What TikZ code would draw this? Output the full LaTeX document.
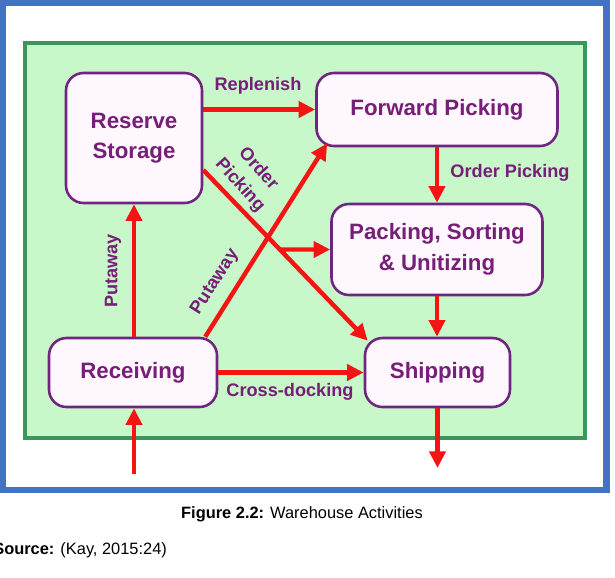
\documentclass[tikz,border=0pt]{standalone}
\usepackage{fontspec}
\setmainfont{Liberation Sans}
\usepackage{xcolor}
\usepackage{tikz}
\usetikzlibrary{arrows.meta, positioning, calc}
\definecolor{frameBlue}{RGB}{68, 114, 196}
\definecolor{boardGreen}{RGB}{200, 247, 202}
\definecolor{boardEdge}{RGB}{58, 150, 92}
\definecolor{boxPurple}{RGB}{112, 38, 128}
\definecolor{textPurple}{RGB}{118, 30, 120}
\definecolor{boxFill}{RGB}{254, 248, 254}
\definecolor{flowRed}{RGB}{245, 20, 20}
\tikzset{
  actbox/.style={
    rectangle, rounded corners=15pt,
    draw=boxPurple, line width=2.2pt, fill=boxFill,
    align=center, inner sep=0pt, text=textPurple,
    font=\fontsize{19}{26}\selectfont\bfseries
  },
  flow/.style={
    -{Triangle[length=5mm,width=4.8mm]},
    line width=3.8pt, color=flowRed
  },
  flowlabel/.style={
    align=center, inner sep=0pt, text=textPurple,
    font=\fontsize{15.5}{21}\selectfont\bfseries
  }
}

\begin{document}
\begin{tikzpicture}[x=0.03cm, y=-0.03cm]

  \useasboundingbox (0,0) rectangle (615,577);

  % ── Frame and board ───────────────────────────────────────────────────────
  \draw[frameBlue,line width=5.2pt] (2.5,3) rectangle (606.5,490);
  \draw[boardEdge,fill=boardGreen,line width=3pt] (25,43) rectangle (585,438);

  % ── Activities ────────────────────────────────────────────────────────────
  \node[actbox,minimum width=4.08cm,minimum height=3.9cm] (rs) at (134,138) {Reserve\\Storage};
  \node[actbox,minimum width=7.23cm,minimum height=2.19cm] (fp) at (437,109.5) {Forward Picking};
  \node[actbox,minimum width=6.33cm,minimum height=2.73cm] (pk) at (437,249.5) {Packing, Sorting\\\& Unitizing};
  \node[actbox,minimum width=5.04cm,minimum height=2.07cm] (rc) at (133,372.5) {Receiving};
  \node[actbox,minimum width=4.35cm,minimum height=2.07cm] (sh) at (437.5,372.5) {Shipping};

  % ── Free ends and corner points ───────────────────────────────────────────
  \coordinate (inflow) at (134,474);
  \coordinate (outflow) at (437.5,468);
  \coordinate (paS) at ($(rc.north east)+(-13,0)$);
  \coordinate (paE) at ($(fp.south west)+(12,-4)$);
  \coordinate (opS) at ($(rs.east)+(0,32)$);
  \coordinate (opE) at ($(sh.north west)+(4,4)$);

  % ── Flows ─────────────────────────────────────────────────────────────────
  \draw[flow] (rs.east |- fp.west) -- (fp.west);
  \draw[flow] (fp.south) -- (fp.south |- pk.north);
  \draw[flow] (pk.south) -- (pk.south |- sh.north);
  \draw[flow] (sh.south) -- (outflow);
  \draw[flow] (inflow) -- (inflow |- rc.south);
  \draw[flow] (rs.south |- rc.north) -- (rs.south);
  \draw[flow] (rc.east) -- (sh.west);
  \draw[flow] (paS) -- (paE);
  \draw[flow] (opS) -- (opE);
  \draw[flow] (intersection of opS--opE and pk.west--pk.center) -- (pk.west);

  % ── Flow labels ───────────────────────────────────────────────────────────
  \node[flowlabel] (lrep) at (258,86) {Replenish};
  \node[flowlabel] (lord) at (510,173) {Order Picking};
  \node[flowlabel,rotate=90] (lput) at (113,271) {Putaway};
  \node[flowlabel,rotate=57.5] (lputd) at (215,282) {Putaway};
  \node[flowlabel,rotate=-48] (lordd) at (249,177) {Order\\Picking};
  \node[flowlabel] (lcross) at (290,392) {Cross-docking};

  % ── Caption ───────────────────────────────────────────────────────────────
  \node[anchor=base,font=\fontsize{14}{16}\selectfont] (cap) at (302,518)
    {\textbf{Figure 2.2:} Warehouse Activities};
  \node[anchor=base east,font=\fontsize{14}{16}\selectfont] (src) at (171,554)
    {\textbf{Source:} (Kay, 2015:24)};

\end{tikzpicture}
\end{document}
